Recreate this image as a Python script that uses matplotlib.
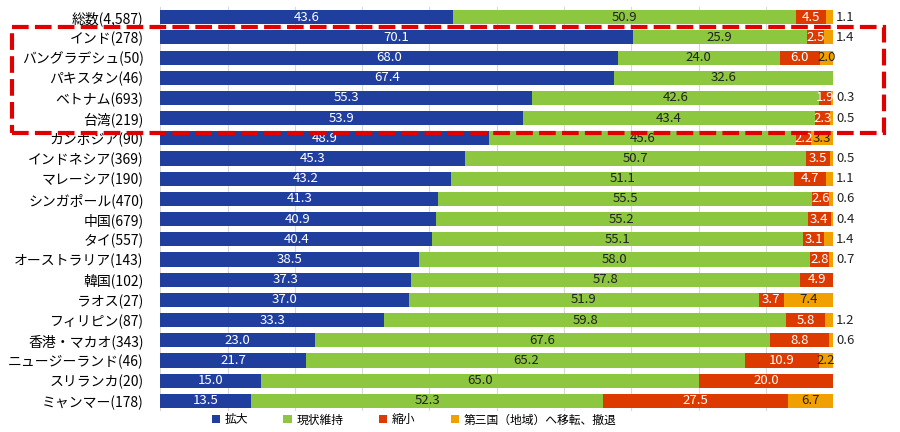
import matplotlib
matplotlib.use("Agg")
import matplotlib.pyplot as plt
from matplotlib.patches import Patch, Rectangle
import numpy as np

plt.rcParams['font.family'] = ['Noto Sans CJK JP', 'DejaVu Sans']

categories = [
    "総数(4,587)", "インド(278)", "バングラデシュ(50)", "パキスタン(46)",
    "ベトナム(693)", "台湾(219)", "カンボジア(90)", "インドネシア(369)",
    "マレーシア(190)", "シンガポール(470)", "中国(679)", "タイ(557)",
    "オーストラリア(143)", "韓国(102)", "ラオス(27)", "フィリピン(87)",
    "香港・マカオ(343)", "ニュージーランド(46)", "スリランカ(20)", "ミャンマー(178)",
]
expand = [43.6, 70.1, 68.0, 67.4, 55.3, 53.9, 48.9, 45.3, 43.2, 41.3,
          40.9, 40.4, 38.5, 37.3, 37.0, 33.3, 23.0, 21.7, 15.0, 13.5]
keep = [50.9, 25.9, 24.0, 32.6, 42.6, 43.4, 45.6, 50.7, 51.1, 55.5,
        55.2, 55.1, 58.0, 57.8, 51.9, 59.8, 67.6, 65.2, 65.0, 52.3]
shrink = [4.5, 2.5, 6.0, 0.0, 1.9, 2.3, 2.2, 3.5, 4.7, 2.6,
          3.4, 3.1, 2.8, 4.9, 3.7, 5.8, 8.8, 10.9, 20.0, 27.5]
relocate = [1.1, 1.4, 2.0, 0.0, 0.3, 0.5, 3.3, 0.5, 1.1, 0.6,
            0.4, 1.4, 0.7, 0.0, 7.4, 1.2, 0.6, 2.2, 0.0, 6.7]
series_names = ["拡大", "現状維持", "縮小", "第三国（地域）へ移転、撤退"]

colors = ["#1F3E9E", "#8DC63F", "#DD3A00", "#F0A000"]
text_colors = ["white", "#222222", "white", "#222222"]

data = np.array([expand, keep, shrink, relocate])
totals = data.sum(axis=0)
widths = data / totals * 100

fig = plt.figure(figsize=(9, 4.32), dpi=100)
ax = fig.add_axes([0.178, 0.0486, 0.748, 0.935])

y = np.arange(len(categories))
left = np.zeros(len(categories))
for i in range(4):
    ax.barh(y, widths[i], left=left, height=0.7, color=colors[i], zorder=2)
    for j in range(len(categories)):
        v = data[i][j]
        if v == 0:
            continue
        if i == 3 and v < 2:
            ax.text(100.4, y[j], f"{v:.1f}", ha="left", va="center",
                    fontsize=9.5, color="#222222")
        else:
            ax.text(left[j] + widths[i][j] / 2, y[j], f"{v:.1f}", ha="center",
                    va="center", fontsize=9.5, color=text_colors[i], zorder=3)
    left = left + widths[i]

ax.set_xlim(0, 100)
ax.set_ylim(len(categories) - 0.5, -0.5)
ax.set_yticks(y)
ax.set_yticklabels(categories, fontsize=10)
ax.set_xticks(np.arange(0, 101, 10))
ax.set_xticklabels([])
ax.tick_params(length=0)
ax.tick_params(axis="y", pad=12)
ax.grid(axis="x", color="#D9D9D9", linewidth=0.8, zorder=0)
for s in ax.spines.values():
    s.set_visible(False)

handles = [Patch(facecolor=c, edgecolor="none") for c in colors]
fig.legend(handles, series_names, loc="center", bbox_to_anchor=(0.46, 0.028),
           ncol=4, frameon=False, fontsize=8.5, handlelength=0.7,
           handleheight=0.7, handletextpad=0.4, columnspacing=3.0)

# highlight box around the South Asia / Vietnam / Taiwan rows
box = Rectangle((0.0133, 0.692), 0.969, 0.245, transform=fig.transFigure,
                fill=False, edgecolor="#E00000", linewidth=3,
                linestyle=(0, (4, 1.5)), zorder=10)
fig.patches.append(box)

fig.savefig("out.png", dpi=100)
